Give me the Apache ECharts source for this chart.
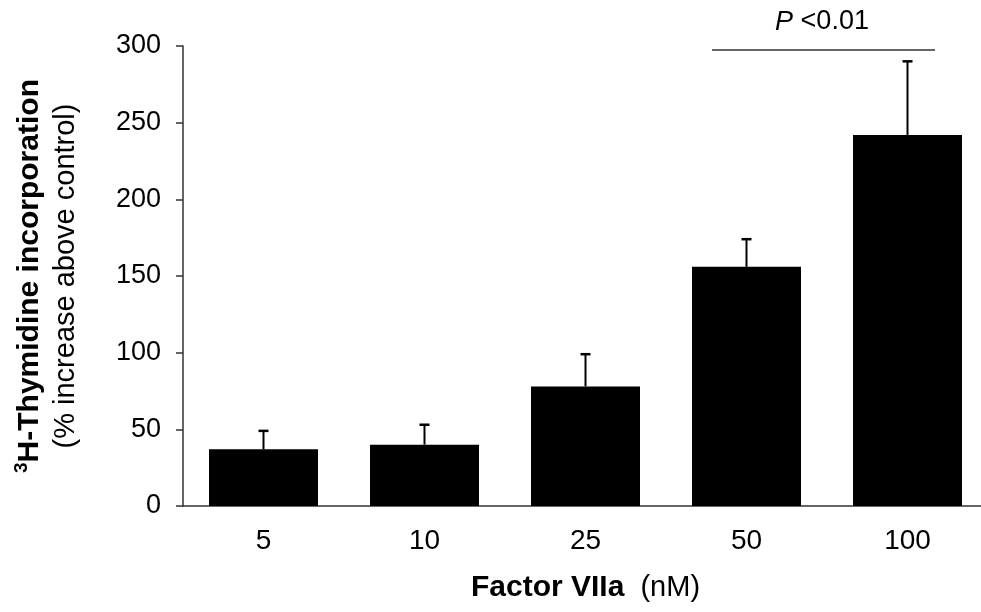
<!DOCTYPE html>
<html>
<head>
<meta charset="utf-8">
<script src="https://cdn.jsdelivr.net/npm/echarts@6/dist/echarts.min.js"></script>
<style>
  html, body { margin: 0; padding: 0; background: #fff; }
  #chart { width: 981px; height: 612px; }
</style>
</head>
<body>
<div id="chart"></div>
<script>
// Factor VIIa dose (nM)
var doses = ['5', '10', '25', '50', '100'];
// mean % increase above control
var means = [37, 40, 78, 156, 242];
// upper end of error bar (mean + SEM)
var upper = [49, 53, 99, 174, 290];
var yTicks = [0, 50, 100, 150, 200, 250, 300];

var chart = echarts.init(document.getElementById('chart'));

var errData = doses.map(function (d, i) {
  return [i, means[i], upper[i]];
});

var option = {
  backgroundColor: '#ffffff',
  animation: false,
  grid: { left: 183, top: 46, bottom: 106, right: -7, containLabel: false, outerBoundsMode: 'none' },
  xAxis: {
    type: 'category',
    data: doses,
    name: '{b|Factor VIIa}{n|  (nM)}',
    nameLocation: 'middle',
    nameGap: 67,
    nameTextStyle: {
      rich: {
        b: { fontFamily: 'Liberation Sans Narrow, Liberation Sans, Arial', fontWeight: 'bold', fontSize: 30, color: '#000' },
        n: { fontFamily: 'Liberation Sans Narrow, Liberation Sans, Arial', fontSize: 29, color: '#000' }
      }
    },
    axisLine: { lineStyle: { color: '#333', width: 1.5 } },
    axisTick: { show: false },
    axisLabel: {
      margin: 21,
      fontFamily: 'Liberation Sans Narrow, Liberation Sans, Arial',
      fontSize: 28,
      color: '#000'
    }
  },
  yAxis: {
    type: 'value',
    min: yTicks[0],
    max: yTicks[yTicks.length - 1],
    interval: 50,
    name: '{s|3}{b|H-Thymidine incorporation}\n{n|(% increase above control)}',
    nameLocation: 'middle',
    nameRotate: 90,
    nameGap: 99,
    nameTextStyle: {
      align: 'center',
      rich: {
        s: { fontFamily: 'Liberation Sans, Arial', fontWeight: 'bold', fontSize: 19, color: '#000', verticalAlign: 'top', padding: [0, 0, 12, 0] },
        b: { fontFamily: 'Liberation Sans, Arial', fontWeight: 'bold', fontSize: 30, color: '#000', lineHeight: 36 },
        n: { fontFamily: 'Liberation Sans, Arial', fontSize: 29, color: '#000', lineHeight: 36 }
      }
    },
    splitLine: { show: false },
    axisLine: { show: true, lineStyle: { color: '#333', width: 1.5 } },
    axisTick: { show: true, inside: false, length: 7, lineStyle: { color: '#333', width: 1.5 } },
    axisLabel: {
      margin: 22,
      fontFamily: 'Liberation Sans, Arial',
      fontSize: 27,
      color: '#000'
    }
  },
  series: [
    {
      type: 'bar',
      data: means,
      barWidth: 109,
      itemStyle: { color: '#000' },
      z: 2
    },
    {
      type: 'custom',
      data: errData,
      z: 3,
      renderItem: function (params, api) {
        var x = api.value(0);
        var lo = api.coord([x, api.value(1)]);
        var hi = api.coord([x, api.value(2)]);
        var half = 5;
        return {
          type: 'group',
          children: [
            { type: 'line', shape: { x1: lo[0], y1: lo[1], x2: hi[0], y2: hi[1] }, style: { stroke: '#000', lineWidth: 2 } },
            { type: 'line', shape: { x1: hi[0] - half, y1: hi[1], x2: hi[0] + half, y2: hi[1] }, style: { stroke: '#000', lineWidth: 2.5 } }
          ]
        };
      }
    }
  ],
  graphic: [
    { type: 'line', shape: { x1: 712, y1: 50, x2: 935, y2: 50 }, style: { stroke: '#333', lineWidth: 1.5 } },
    {
      type: 'text', x: 822, y: 22,
      style: {
        text: '{i|P}{n| <0.01}',
        align: 'center', verticalAlign: 'middle',
        rich: {
          i: { fontFamily: 'Liberation Sans, Arial', fontStyle: 'italic', fontSize: 27, fill: '#000' },
          n: { fontFamily: 'Liberation Sans, Arial', fontSize: 27, fill: '#000' }
        }
      }
    }
  ]
};

chart.setOption(option);
</script>
</body>
</html>
